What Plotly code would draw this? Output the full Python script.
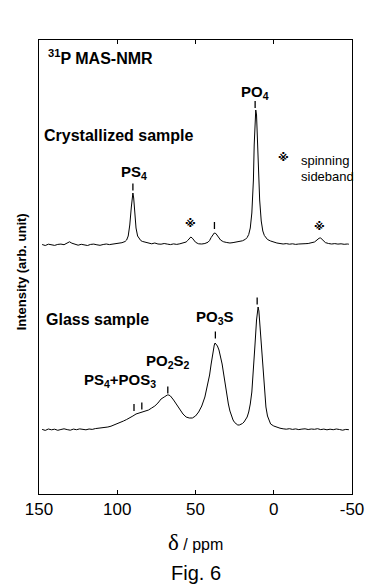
import plotly.graph_objects as go

# ---- data (chemical shift in ppm, intensity in arbitrary units) ----
cryst_ppm = [148, 146, 144, 142, 140, 138, 136, 134, 132, 130.5, 129, 127, 125, 123, 121, 119, 117, 115, 113, 111,
             109, 107, 105, 103, 101, 99, 97, 95, 94, 93, 92, 91, 90.5, 90, 89.5, 89, 88.5, 88, 87, 86, 85, 84,
             82, 80, 78, 76, 74, 72, 70, 68, 66, 64, 62, 60, 58, 56, 55, 54, 53, 52, 51, 50, 49, 48, 46, 44, 42,
             41, 40, 39, 38, 37, 36, 35, 34, 33, 32, 30, 28, 26, 24, 22, 20, 18, 17, 16, 15, 14, 13, 12.5, 12,
             11.5, 11, 10.5, 10, 9.5, 9, 8, 7, 6, 5, 4, 2, 0, -2, -4, -6, -8, -10, -12, -14, -16, -18, -20, -22,
             -24, -26, -27, -28, -29, -30, -31, -32, -33, -35, -37, -39, -41, -43, -45, -47, -48]
cryst_int = [0.5, -0.5, 0.8, 0.2, -0.4, 0.6, 0.9, 0.3, 1.6, 3.2, 1.8, 0.4, -0.2, 0.7, 0.1, -0.5, 0.6, 0.9, 0.2, -0.3,
             0.5, 1.0, 0.4, 0.8, 1.2, 1.6, 2.3, 3.5, 5, 9, 20, 38, 48, 52, 47, 36, 25, 17, 9, 6, 4.5, 3.6,
             2.6, 1.8, 1.2, 2.0, 1.0, 0.8, 1.5, 0.9, 0.4, 1.1, 0.6, 1.2, 1.8, 3.0, 4.5, 6.5, 8, 6.8, 4.5, 2.8, 1.9, 1.2, 1.0, 1.5, 2.8,
             4.5, 7.5, 10.5, 12, 11.5, 9, 6.5, 5, 4, 3.2, 2.5, 2.0, 2.4, 2.8, 3.4, 4.2, 5.8, 7.5, 10.5, 17, 32, 65, 100, 125,
             135, 130, 110, 85, 62, 45, 24, 14, 9.5, 7, 5.5, 4, 2.8, 2, 1.5, 1.0, 1.4, 0.8, 1.2, 0.6, 1.0, 0.9, 1.3, 1.5,
             2.0, 3.0, 4.2, 5.5, 6.8, 7, 5.5, 3.5, 2.4, 1.5, 1.0, 1.4, 0.9, 1.2, 0.7, 1.0, 0.8]

glass_ppm = [148, 146, 144, 142, 140, 138, 136, 134, 132, 130, 128, 126, 124, 122, 120, 118, 116, 114, 112, 110,
             108, 106, 104, 102, 100, 98, 96, 94, 92, 90, 88, 86, 84, 82, 80, 78, 76, 74, 72, 70, 68, 67, 66, 64,
             62, 60, 58, 56, 54, 52, 50, 48, 46, 44, 42, 41, 40, 39, 38, 37.5, 37, 36, 35, 34, 33, 32, 31, 30, 29,
             28, 27, 26, 25, 24, 23, 22, 21, 20, 19, 18, 17, 16, 15, 14, 13, 12, 11, 10.5, 10, 9.5, 9, 8, 7, 6, 5,
             4, 3, 2, 0, -2, -4, -6, -8, -10, -12, -14, -16, -18, -20, -22, -24, -26, -28, -30, -32, -34, -36, -38,
             -40, -42, -44, -46, -48]
glass_int = [0.6, -0.4, 1.0, 0.2, 0.8, -0.3, 0.5, 1.2, 0.4, -0.2, 0.9, 0.3, 1.1, 0.5, 0.2, 1.0, 0.6, 1.4, 1.8, 1.5,
             2.4, 3.0, 3.8, 5.0, 6.0, 7.5, 9.0, 10.5, 12, 14, 16, 17, 18, 19, 20, 22, 24, 27, 31, 33, 35, 35, 34, 30,
             25, 20, 16, 13, 12, 12, 14, 18, 24, 33, 46, 55, 66, 77, 85, 87, 86, 84, 80, 74, 66, 56, 45, 35, 26,
             19, 14, 10, 7.5, 6, 5, 5, 5.5, 6.5, 8, 10, 13, 18, 26, 38, 58, 85, 110, 120, 123, 119, 108, 86, 60, 38, 23,
             14, 9, 6, 4, 2.5, 1.8, 1.2, 0.8, 1.3, 0.6, 1.1, 0.4, 0.9, 1.2, 0.5, 1.0, 0.7, 1.3, 0.4, 0.9, 0.2, 0.8, 0.3,
             1.0, 0.5, -0.2, 0.6, 0.3]

cryst_offset = 249
glass_offset = 64

tick_labels = ["150", "100", "50", "0", "-50"]
tick_vals = [150, 100, 50, 0, -50]

# peak-marker ticks (ppm, intensity in plot units)
cryst_marks_ppm = [90, 37.9, 11.9]
cryst_marks_y = [307, 268.5, 389.5]
glass_marks_ppm = [89.3, 84.3, 67.7, 37.3, 10.6]
glass_marks_y = [86.5, 88, 104, 159, 193]

SANS = "Liberation Sans Narrow, Arial Narrow, Liberation Sans, Arial"

fig = go.Figure()
fig.add_trace(go.Scatter(x=cryst_ppm, y=[v + cryst_offset for v in cryst_int], mode="lines",
                         line=dict(color="black", width=1), showlegend=False, hoverinfo="skip"))
fig.add_trace(go.Scatter(x=glass_ppm, y=[v + glass_offset for v in glass_int], mode="lines",
                         line=dict(color="black", width=1), showlegend=False, hoverinfo="skip"))
fig.add_trace(go.Scatter(x=cryst_marks_ppm + glass_marks_ppm, y=cryst_marks_y + glass_marks_y, mode="markers",
                         marker=dict(symbol="line-ns", size=5, line=dict(color="black", width=1.3)),
                         showlegend=False, hoverinfo="skip"))


def ann(text, x, y, size=16, bold=True, xanchor="center", family=SANS):
    fig.add_annotation(text=text, x=x, y=y, xref="x", yref="y", showarrow=False, xanchor=xanchor, yanchor="middle",
                       font=dict(family=family, size=size, color="black", weight="bold" if bold else "normal"))


ann("<sup>31</sup>P MAS-NMR", 145.3, 437, size=16, xanchor="left")
ann("Crystallized sample", 147.8, 359, size=16, xanchor="left")
ann("PS<sub>4</sub>", 89.3, 322, size=15)
ann("PO<sub>4</sub>", 12.3, 402, size=15)
ann("Glass sample", 146.5, 175, size=16, xanchor="left")
ann("PO<sub>3</sub>S", 37.8, 177, size=15)
ann("PO<sub>2</sub>S<sub>2</sub>", 67.7, 133, size=15)
ann("PS<sub>4</sub>+POS<sub>3</sub>", 98.2, 114, size=15)
# spinning sideband legend and markers
ann("※", -6.2, 337, size=11, bold=True, family="DejaVu Sans")
ann("spinning", -16.3, 334, size=13, bold=False, xanchor="left")
ann("sideband", -16.3, 318, size=13, bold=False, xanchor="left")
ann("※", 53.2, 271, size=11, bold=True, family="DejaVu Sans")
ann("※", -29.3, 268, size=11, bold=True, family="DejaVu Sans")

# axis titles and caption
fig.add_annotation(text="Intensity (arb. unit)", x=-0.055, y=0.49, xref="paper", yref="paper", textangle=-90,
                   showarrow=False, xanchor="center", yanchor="middle",
                   font=dict(family=SANS, size=13, color="black", weight="bold"))
fig.add_annotation(text='<span style="font-family:Liberation Serif;font-size:23px">δ</span> / ppm',
                   x=0.5, y=-0.107, xref="paper", yref="paper", showarrow=False, xanchor="center", yanchor="middle",
                   font=dict(family=SANS, size=16, color="black"))
fig.add_annotation(text="Fig. 6", x=0.5, y=-0.174, xref="paper", yref="paper", showarrow=False,
                   xanchor="center", yanchor="middle",
                   font=dict(family="Liberation Sans, Arial", size=20, color="black"))

fig.update_layout(
    width=376, height=586, margin=dict(l=39, r=15, t=40, b=92),
    paper_bgcolor="white", plot_bgcolor="white",
    xaxis=dict(range=[150, -50], tickvals=tick_vals, ticktext=tick_labels, ticks="inside", ticklen=4,
               tickcolor="black", tickwidth=1, showline=True, linecolor="black", linewidth=1, mirror="ticks",
               showgrid=False, zeroline=False,
               tickfont=dict(family=SANS, size=17, color="black")),
    yaxis=dict(range=[0, 454], showticklabels=False, ticks="", showline=True, linecolor="black",
               linewidth=1, mirror=True, showgrid=False, zeroline=False),
)
fig.write_html("out.html")
